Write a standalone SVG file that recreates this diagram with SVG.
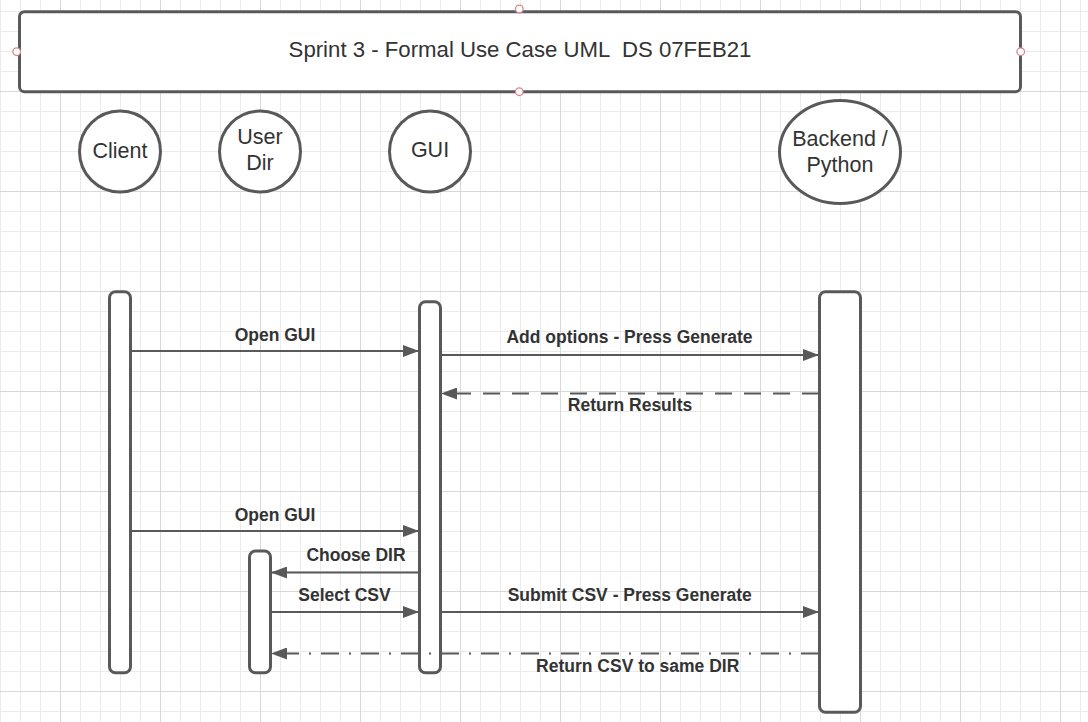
<svg xmlns="http://www.w3.org/2000/svg" width="1088" height="722" viewBox="0 0 1088 722">
<style>
.box{fill:#fff;stroke:#595959;stroke-width:3}
.bar{fill:#fff;stroke:#595959;stroke-width:3}
.node{fill:#fff;stroke:#595959;stroke-width:3}
.t{font-family:"Liberation Sans",Arial,sans-serif;font-size:21.5px;fill:#333;text-anchor:middle;white-space:pre}
.title{font-size:22.2px}
.lbl{font-family:"Liberation Sans",Arial,sans-serif;font-size:17.5px;font-weight:bold;fill:#333;text-anchor:middle}
.msg{fill:none;stroke:#595959;stroke-width:2;marker-end:url(#ah)}
.dash{stroke-dasharray:17 12}
.dashdot{stroke-dasharray:18 10 2 10}
.pt{fill:#fff;stroke:#d9868c;stroke-width:1.3}
</style>
<defs>
<pattern id="minor" patternUnits="userSpaceOnUse" x="0" y="11" width="20" height="20">
<path d="M0.5,0 V20 M0,0.5 H20" stroke="#ebebeb" stroke-width="1" fill="none"/>
</pattern>
<pattern id="major" patternUnits="userSpaceOnUse" x="60" y="91" width="100" height="100">
<path d="M0.5,0 V100 M0,0.5 H100" stroke="#d8d8d8" stroke-width="1" fill="none"/>
</pattern>
<marker id="ah" markerUnits="userSpaceOnUse" viewBox="0 0 16 12" refX="16" refY="6" markerWidth="16" markerHeight="12" orient="auto">
<path d="M0,0 L16,6 L0,12 z" fill="#595959"/>
</marker>
</defs>
<rect width="1088" height="722" fill="#fff"/>
<rect width="1088" height="722" fill="url(#minor)"/>
<rect width="1088" height="722" fill="url(#major)"/>

<g id="title">
<rect class="box" x="19.5" y="11.7" width="1001" height="80" rx="5"/>
<text class="t title" x="520" y="56.5">Sprint 3 - Formal Use Case UML  DS 07FEB21</text>
<circle class="pt" cx="519.3" cy="9" r="3.8"/>
<circle class="pt" cx="16.7" cy="51.7" r="3.8"/>
<circle class="pt" cx="1020.7" cy="51.7" r="3.8"/>
<circle class="pt" cx="519.3" cy="91.7" r="3.8"/>
</g>

<g id="client">
<circle class="node" cx="120" cy="151.5" r="40.5"/>
<text class="t" x="120" y="157.5">Client</text>
</g>
<g id="userdir">
<circle class="node" cx="260" cy="151.5" r="40.5"/>
<text class="t" x="260" y="144">User</text>
<text class="t" x="260" y="170">Dir</text>
</g>
<g id="gui">
<circle class="node" cx="430" cy="151.5" r="40.5"/>
<text class="t" x="430" y="156.5">GUI</text>
</g>
<g id="backend">
<ellipse class="node" cx="840" cy="152" rx="60.5" ry="51.5"/>
<text class="t" x="840" y="145.5">Backend /</text>
<text class="t" x="840" y="171.5">Python</text>
</g>

<g id="client-bar"><rect class="bar" x="109.5" y="291.7" width="21" height="381" rx="6"/></g>
<g id="gui-bar"><rect class="bar" x="419.5" y="301.7" width="21" height="371" rx="6"/></g>
<g id="userdir-bar"><rect class="bar" x="249.5" y="551" width="21" height="121.7" rx="6"/></g>
<g id="backend-bar"><rect class="bar" x="819.5" y="291.7" width="41" height="420.6" rx="6"/></g>

<g id="connectors">
<path class="msg" d="M131,351 H419"/>
<path class="msg" d="M441,355 H819"/>
<path class="msg dash" d="M819,393.5 H441"/>
<path class="msg" d="M131,531 H419"/>
<path class="msg" d="M419,572.5 H271"/>
<path class="msg" d="M271,612 H419"/>
<path class="msg" d="M441,612 H819"/>
<path class="msg dashdot" d="M819,653.5 H271"/>
<text class="lbl" x="275" y="340.7">Open GUI</text>
<text class="lbl" x="629.5" y="343.3">Add options - Press Generate</text>
<text class="lbl" x="630" y="411">Return Results</text>
<text class="lbl" x="275" y="520.7">Open GUI</text>
<text class="lbl" x="356" y="561">Choose DIR</text>
<text class="lbl" x="344.5" y="601">Select CSV</text>
<text class="lbl" x="629.7" y="601">Submit CSV - Press Generate</text>
<text class="lbl" x="637.7" y="672">Return CSV to same DIR</text>
</g>
</svg>
